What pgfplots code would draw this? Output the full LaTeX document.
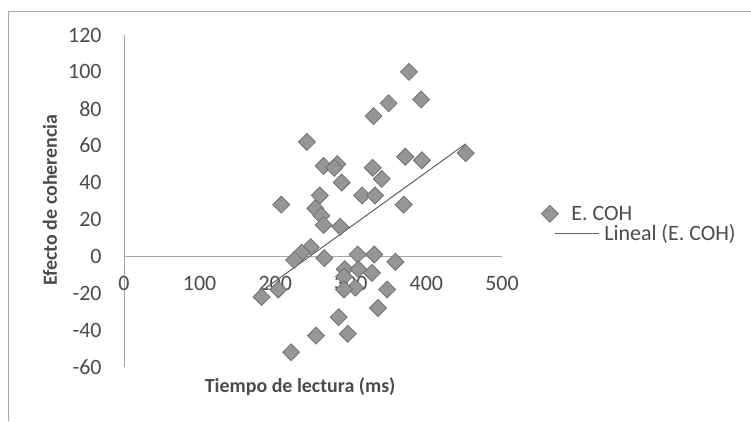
\documentclass[border=0pt]{standalone}
\usepackage{pgfplots}
\pgfplotsset{compat=1.18}
\usepackage{fontspec}
\setmainfont{Carlito}
\definecolor{txt}{RGB}{75,75,75}
\definecolor{axl}{RGB}{165,165,165}
\definecolor{mk}{RGB}{150,150,150}
\definecolor{mkd}{RGB}{112,112,112}
\definecolor{trend}{RGB}{95,95,95}
\newcommand{\fs}{\fontsize{22}{26}\selectfont}
\newcommand{\fl}{\fontsize{20}{24}\selectfont}
\pgfplotsset{
  legscatter/.style={legend image code/.code={\path[draw=none,fill=none] (0bp,-3bp) rectangle (44bp,3bp);
    \draw[##1, overlay] plot coordinates {(-5bp,0bp)};}},
  legline/.style={legend image code/.code={\draw[##1] (0bp,0bp) -- (44bp,0bp);}},
}
\begin{document}
\begin{tikzpicture}[x=1bp,y=1bp]
\useasboundingbox (0,0) rectangle (751,421);
\draw[color=gray!70, line width=0.8bp] (8,0) -- (8,410) -- (751,410);
\begin{axis}[
  at={(124bp,54bp)}, anchor=south west,
  scale only axis, width=378bp, height=332bp,
  xmin=0, xmax=500, ymin=-60, ymax=120,
  axis x line=middle, axis y line=left,
  every inner x axis line/.append style={-},
  every outer x axis line/.append style={-},
  every inner y axis line/.append style={-},
  every outer y axis line/.append style={-},
  axis line style={-, draw=axl, line width=1bp},
  hide obscured x ticks=false, hide obscured y ticks=false,
  xtick={0,100,...,500}, ytick={-60,-40,...,120},
  major tick length=0pt, tick style={draw=none},
  /pgf/number format/assume math mode=true,
  ticklabel style={font=\fs, text=txt},
  xticklabel style={anchor=north, yshift=-16bp},
  yticklabel style={anchor=east, xshift=-19bp},
  every axis x label/.style={at={(axis description cs:0.466,-0.06)}, anchor=center, font=\fl\bfseries, text=txt},
  every axis y label/.style={at={(axis description cs:-0.196,0.503)}, rotate=90, anchor=center, font=\fl\bfseries, text=txt},
  xlabel={Tiempo de lectura (ms)},
  ylabel={Efecto de coherencia},
  clip=false,
  legend style={at={(axis description cs:1.138,0.486)}, anchor=north west,
    draw=none, fill=none, inner sep=0pt, row sep=3bp, column sep=5bp,
    font=\fs, text=txt, nodes={inner sep=0pt}},
  legend cell align=left,
]
\addplot[only marks, mark=square*, mark size=6bp,
  mark options={rotate=45, fill=mk, draw=mkd, line width=0.8bp}, legscatter]
coordinates {
(377,100) (393,85) (350,83) (330,76) (242,62) (264,49) (282,50) (278,48)
(329,48) (288,40) (341,42) (372,54) (394,52) (452,56) (315,33) (332,33)
(259,33) (208,28) (253,26) (261,22) (370,28) (264,17) (286,16) (247,5)
(235,2) (225,-2) (265,-1) (309,1) (331,1) (359,-3) (292,-7) (310,-7)
(328,-9) (291,-11) (306,-17) (291,-18) (348,-18) (204,-18) (182,-22)
(336,-28) (284,-33) (254,-43) (296,-42) (221,-52)
};
\addlegendentry{\hspace*{-33bp}E. COH}
\addplot[trend, line width=1bp, legline]
coordinates {(178,-20) (452,61)};
\addlegendentry{Lineal (E. COH)}
\end{axis}
\end{tikzpicture}
\end{document}
